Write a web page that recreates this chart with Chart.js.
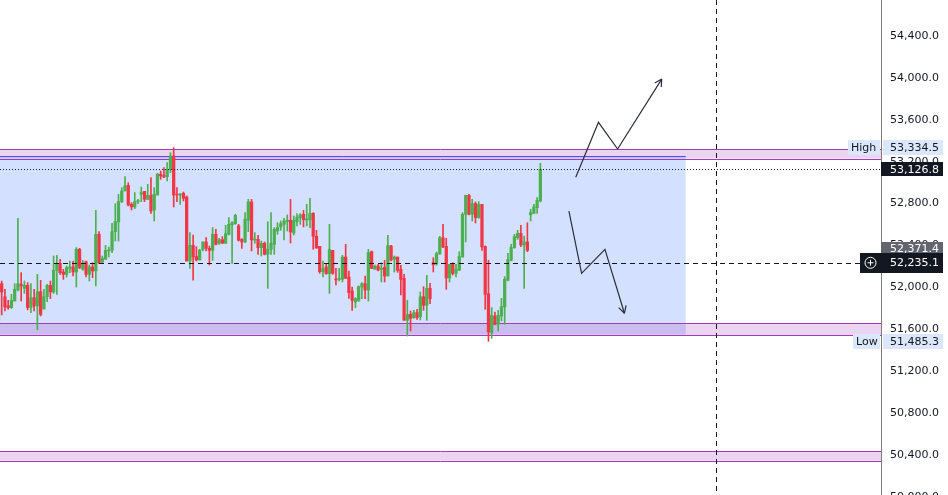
<!DOCTYPE html>
<html>
<head>
<meta charset="utf-8">
<script src="https://cdn.jsdelivr.net/npm/chart.js@4.4.1/dist/chart.umd.min.js"></script>
<style>
  html, body { margin: 0; padding: 0; background: #fff; overflow: hidden; }
</style>
</head>
<body>
<canvas id="chart" width="948" height="495"></canvas>
<script>
// candles (bar index 0 is the half-hidden one at the left edge)
const OPEN = [51680,52036,51911,51826,51807,51870,51975,52030,51991,52020,51807,51902,51823,51959,51794,51911,52020,51956,52163,52230,
  52147,52125,52182,52195,52147,52364,52173,52246,52125,52195,52157,52507,52243,52268,52348,52354,52532,52625,52819,52921,
  52975,52793,52768,52819,52889,52917,52841,52879,52739,52882,53080,53070,53057,53127,53255,52889,52882,52898,52863,52252,
  52402,52294,52262,52364,52434,52373,52354,52507,52421,52456,52421,52507,52596,52609,52587,52459,52434,52641,52816,52453,
  52459,52380,52421,52316,52364,52411,52539,52577,52602,52628,52641,52520,52628,52666,52698,52644,52644,52707,52488,52392,
  52150,52195,52131,52354,52077,52077,52077,52290,52099,51966,51861,51877,52004,52036,51975,52341,52173,52204,52173,52192,
  52109,52396,52268,52290,52173,52087,51686,51743,51711,51759,51721,51911,51829,51991,52236,52224,52319,52475,52392,52090,
  52227,52134,52163,52290,52698,52879,52698,52800,52666,52793,52392,51940,51568,51727,51648,51727,51813,52068,52259,52380,
  52475,52516,52405,52434,52692,52707,52761,52825];
const HIGH = [52061,52061,51982,51877,51934,52036,52660,52141,52061,52046,52036,51982,52125,52068,51982,52030,52061,52300,52306,52268,
  52173,52204,52252,52252,52380,52373,52258,52252,52214,52236,52736,52532,52300,52402,52386,52612,52800,52889,52952,53057,
  53000,52809,52905,52841,52959,52917,52984,53048,52952,53089,53111,53143,53191,53286,53334.5,52952,52895,52911,52873,52523,
  52500,52389,52364,52434,52475,52396,52571,52555,52469,52485,52593,52666,52628,52698,52602,52466,52714,52841,52841,52523,
  52497,52443,52434,52628,52714,52571,52618,52634,52660,52692,52841,52682,52704,52704,52736,52793,52850,52714,52545,52392,
  52252,52227,52602,52354,52182,52182,52306,52411,52157,52004,51902,52014,52046,52109,52364,52348,52214,52220,52236,52258,
  52497,52402,52300,52290,52211,52125,51877,51775,51781,51791,51956,52007,52115,52039,52284,52338,52488,52602,52469,52220,
  52236,52220,52341,52714,52879,52889,52841,52816,52819,52793,52396,52259,51807,51765,51781,51896,52103,52325,52411,52507,
  52545,52593,52491,52618,52746,52793,52857,53185];
const LOW = [51648,51737,51775,51791,51800,51870,51966,51870,51943,51785,51759,51775,51597,51727,51794,51864,51893,51943,51934,52125,
  52077,52099,52141,52109,52004,52179,52163,52099,52061,52093,52014,52227,52227,52268,52290,52332,52443,52443,52809,52921,
  52777,52739,52752,52800,52819,52819,52841,52707,52634,52882,53032,53048,53016,53095,52768,52819,52793,52825,52252,52182,
  52068,52252,52262,52348,52348,52214,52258,52405,52411,52421,52421,52500,52230,52602,52443,52373,52427,52532,52348,52421,
  52316,52300,52310,51991,52316,52316,52507,52545,52453,52539,52424,52500,52587,52602,52577,52587,52571,52364,52373,52134,
  52099,52125,51943,52125,52023,52061,52052,52087,51896,51781,51807,51864,51893,51893,51870,52179,52173,52157,52052,52052,
  52109,52252,52147,52144,51928,51686,51536,51584,51705,51695,51689,51781,51686,51845,52147,52211,52316,52380,51982,52052,
  52118,52099,52163,52290,52434,52692,52634,52615,52660,52354,51791,51485.3,51514,51641,51584,51680,51648,52061,52252,52373,
  52459,52389,51991,52341,52634,52707,52707,52816];
const CLOSE = [52036,51956,51813,51807,51877,51982,52036,52014,52020,51807,51902,51823,51959,51743,51911,52020,51956,52163,52230,52141,
  52125,52189,52195,52147,52364,52189,52220,52125,52195,52157,52507,52236,52278,52354,52354,52532,52628,52819,52921,52968,
  52787,52768,52819,52825,52905,52841,52879,52730,52889,53080,53064,53054,53127,53255,52882,52882,52889,52850,52252,52402,
  52290,52262,52357,52434,52373,52354,52507,52411,52456,52421,52513,52602,52618,52688,52450,52434,52650,52816,52453,52459,
  52380,52421,52316,52364,52421,52555,52571,52609,52634,52641,52529,52641,52672,52692,52647,52650,52707,52488,52376,52150,
  52182,52131,52364,52134,52071,52087,52290,52087,51950,51877,51893,52007,52036,51975,52332,52182,52204,52166,52179,52109,
  52402,52262,52290,52163,52077,51686,51743,51705,51759,51711,51911,51829,51991,51893,52217,52322,52475,52386,52090,52220,
  52134,52173,52294,52698,52879,52698,52800,52666,52793,52386,51934,51575,51733,51648,51733,51816,52077,52265,52380,52485,
  52516,52405,52434,52354,52714,52768,52831,53126.8];

const PRICE_TICKS = [50000, 50400, 50800, 51200, 51600, 52000, 52400, 52800, 53200, 53600, 54000, 54400];

// marked levels and drawings (bar index, price)
const RANGE_HIGH = 53334.5;
const RANGE_LOW = 51485.3;
const LAST_PRICE = 53126.8;
const PREV_CLOSE = 52371.4;
const CURSOR_PRICE = 52235.1;
const CURSOR_BAR = 221;
const ZONES = [[53322, 53230], [51660, 51541], [50438, 50345]];
const RANGE_BOX = [-5, 211.8, 53252, 51550];
const UP_PATH = [[177.9, 53051], [184.9, 53576], [190.8, 53321], [204.4, 53989]];
const DOWN_PATH = [[175.8, 52729], [179.7, 52134], [186.9, 52364], [192.9, 51753]];

const UP = '#4caf50', DOWN = '#f23645';
const candleColors = OPEN.map((o, i) => CLOSE[i] >= o ? UP : DOWN);
const fmt = v => v.toLocaleString('en-US', { minimumFractionDigits: 1, maximumFractionDigits: 1 });
const FONT = '11px "DejaVu Sans"';

const hline = (ctx, x0, x1, yy) => {
  ctx.beginPath();
  ctx.moveTo(x0, Math.round(yy) + 0.5);
  ctx.lineTo(x1, Math.round(yy) + 0.5);
  ctx.stroke();
};

const drawPath = (ctx, x, y, pts) => {
  const p = pts.map(([b, v]) => [x.getPixelForValue(b), y.getPixelForValue(v)]);
  ctx.beginPath();
  p.forEach(([px, py], i) => i ? ctx.lineTo(px, py) : ctx.moveTo(px, py));
  ctx.stroke();
  // arrow head
  const [x1, y1] = p[p.length - 1], [x0, y0] = p[p.length - 2];
  const ang = Math.atan2(y1 - y0, x1 - x0);
  ctx.beginPath();
  [-0.5, 0.5].forEach(d => {
    ctx.moveTo(x1, y1);
    ctx.lineTo(x1 - 8 * Math.cos(ang + d), y1 - 8 * Math.sin(ang + d));
  });
  ctx.stroke();
};

const labelBox = (ctx, x0, x1, yc, h, bg, fg, text, pad = 9) => {
  ctx.fillStyle = bg;
  ctx.fillRect(x0, Math.round(yc - h / 2), x1 - x0, h);
  ctx.fillStyle = fg;
  ctx.font = FONT;
  ctx.textBaseline = 'middle';
  ctx.textAlign = 'left';
  ctx.fillText(text, x0 + pad, yc + 0.5);
};

const drawings = {
  id: 'drawings',
  beforeDatasetsDraw(chart) {
    const { ctx, chartArea: a, scales: { x, y } } = chart;
    ctx.save();
    const [b0, b1, top, bot] = RANGE_BOX;
    const l = x.getPixelForValue(b0), r = x.getPixelForValue(b1);
    const t = y.getPixelForValue(top), b = y.getPixelForValue(bot);
    ctx.fillStyle = 'rgba(41,98,255,0.2)';
    ctx.fillRect(l, t, r - l, b - t);
    ctx.strokeStyle = '#2962ff';
    ctx.lineWidth = 1;
    hline(ctx, l, r, t);
    hline(ctx, l, r, b);
    ZONES.forEach(([hi, lo]) => {
      const zt = y.getPixelForValue(hi), zb = y.getPixelForValue(lo);
      ctx.fillStyle = 'rgba(156,39,176,0.2)';
      ctx.fillRect(a.left, zt, a.right - a.left, zb - zt);
      ctx.strokeStyle = '#a33bbd';
      hline(ctx, a.left, a.right, zt);
      hline(ctx, a.left, a.right, zb);
    });
    ctx.restore();
  },
  afterDatasetsDraw(chart) {
    const { ctx, chartArea: a, scales: { x, y } } = chart;
    ctx.save();
    ctx.strokeStyle = '#131722';
    ctx.lineWidth = 1;
    // last price
    ctx.setLineDash([1, 2]);
    hline(ctx, a.left, a.right, y.getPixelForValue(LAST_PRICE));
    // crosshair
    ctx.setLineDash([5, 4]);
    hline(ctx, a.left, a.right - 20, y.getPixelForValue(CURSOR_PRICE));
    const cx = Math.round(x.getPixelForValue(CURSOR_BAR)) + 0.5;
    ctx.beginPath();
    ctx.moveTo(cx, a.top);
    ctx.lineTo(cx, a.bottom);
    ctx.stroke();
    ctx.setLineDash([]);
    // hand drawn arrows
    ctx.strokeStyle = '#2a2e39';
    ctx.lineWidth = 1.2;
    drawPath(ctx, x, y, UP_PATH);
    drawPath(ctx, x, y, DOWN_PATH);
    ctx.restore();
  },
  afterDraw(chart) {
    const { ctx, chartArea: a, scales: { y } } = chart;
    const R = a.right, E = 943;
    ctx.save();
    let yc = y.getPixelForValue(RANGE_HIGH);
    labelBox(ctx, R - 33, R - 1, yc, 15, '#dbe8fb', '#131722', 'High', 3);
    labelBox(ctx, R + 2, E, yc, 15, '#dbe8fb', '#131722', fmt(RANGE_HIGH), 7);
    yc = y.getPixelForValue(RANGE_LOW);
    labelBox(ctx, R - 28, R - 1, yc, 15, '#dbe8fb', '#131722', 'Low', 3);
    labelBox(ctx, R + 2, E, yc, 15, '#dbe8fb', '#131722', fmt(RANGE_LOW), 7);
    labelBox(ctx, R, E, y.getPixelForValue(LAST_PRICE), 14, '#131722', '#ffffff', fmt(LAST_PRICE));
    labelBox(ctx, R, E, y.getPixelForValue(PREV_CLOSE), 13, '#62656f', '#ffffff', fmt(PREV_CLOSE));
    yc = y.getPixelForValue(CURSOR_PRICE);
    labelBox(ctx, R - 21, E, yc, 20, '#131722', '#ffffff', '');
    ctx.fillStyle = '#ffffff';
    ctx.font = FONT;
    ctx.textBaseline = 'middle';
    ctx.fillText(fmt(CURSOR_PRICE), R + 9, yc + 0.5);
    ctx.strokeStyle = '#ffffff';
    ctx.lineWidth = 1;
    ctx.beginPath();
    ctx.arc(R - 10.5, yc, 5.5, 0, Math.PI * 2);
    ctx.moveTo(R - 13.5, yc); ctx.lineTo(R - 7.5, yc);
    ctx.moveTo(R - 10.5, yc - 3); ctx.lineTo(R - 10.5, yc + 3);
    ctx.stroke();
    ctx.restore();
  }
};

new Chart(document.getElementById('chart'), {
  type: 'bar',
  data: {
    datasets: [
      {
        label: 'body',
        data: OPEN.map((o, i) => ({ x: i, y: [o, CLOSE[i]] })),
        backgroundColor: candleColors,
        barThickness: 2.6,
        minBarLength: 1,
        grouped: false
      },
      {
        label: 'wick',
        data: OPEN.map((o, i) => ({ x: i, y: [LOW[i], HIGH[i]] })),
        backgroundColor: candleColors,
        barThickness: 1,
        grouped: false
      }
    ]
  },
  options: {
    responsive: false,
    animation: false,
    layout: { padding: 0 },
    plugins: { legend: { display: false }, tooltip: { enabled: false } },
    scales: {
      x: { type: 'linear', min: 0.476, max: 271.97, display: false, offset: false },
      y: {
        position: 'right',
        min: 50018,
        max: 54744,
        grid: { display: false, drawTicks: false },
        border: { color: '#7b7b7b' },
        ticks: {
          autoSkip: false,
          padding: 9,
          color: '#131722',
          font: { family: 'DejaVu Sans', size: 11 },
          callback: v => fmt(v)
        },
        afterBuildTicks: s => { s.ticks = PRICE_TICKS.map(v => ({ value: v })); },
        afterFit: s => { s.width = 67; s.paddingTop = 0; s.paddingBottom = 0; }
      }
    }
  },
  plugins: [drawings]
});
</script>
</body>
</html>
